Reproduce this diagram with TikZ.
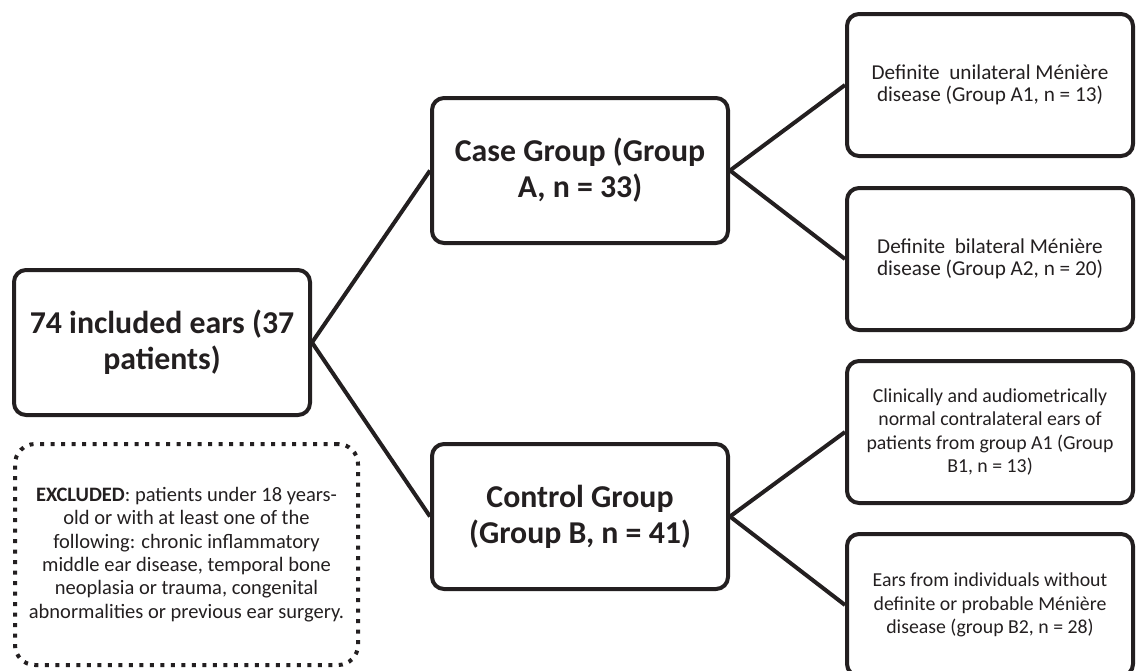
\documentclass[tikz,border=0pt]{standalone}
\usepackage{fontspec}
\setmainfont{Carlito}
\usetikzlibrary{positioning}
\definecolor{ink}{HTML}{231F20}

\begin{document}
\begin{tikzpicture}[x=1pt, y=-1pt, line join=round]
  \tikzset{
    mainbox/.style={rectangle, rounded corners=12pt, draw=ink, text=ink, line width=4pt,
      minimum width=296pt, minimum height=145pt, align=center,
      font=\fontsize{31.8}{36}\selectfont\bfseries},
    subbox/.style={rectangle, rounded corners=12pt, draw=ink, text=ink, line width=4pt,
      minimum width=286pt, minimum height=142pt, align=center,
      font=\fontsize{19.8}{23.3}\selectfont},
    exclbox/.style={rectangle, rounded corners=20pt, draw=ink, text=ink, line width=4pt,
      dash pattern=on 4pt off 6.5pt, minimum width=343pt, minimum height=221pt,
      align=center, font=\fontsize{20.5}{23.3}\selectfont},
    link/.style={draw=ink, line width=4pt}
  }
  \useasboundingbox (0,0) rectangle (1137,670);

  \node[mainbox] (ears) at (162,342.5) {74 included ears (37\\patients)};
  \node[mainbox] (caseA) [above right=23pt and 118pt of ears] {Case Group (Group\\A, n = 33)};
  \node[mainbox] (controlB) [below right=25pt and 118pt of ears] {Control Group\\(Group B, n = 41)};

  \node[subbox, font=\fontsize{21.2}{22.5}\selectfont] (a1) at (990,85) {Definite\ \ unilateral Ménière\\disease (Group A1, n = 13)};
  \node[subbox, font=\fontsize{21.2}{22.5}\selectfont] (a2) [below=28pt of a1] {Definite\ \ bilateral Ménière\\disease (Group A2, n = 20)};
  \node[subbox] (b1) [below=27pt of a2] {Clinically and audiometrically\\normal contralateral ears of\\patients from group A1 (Group\\B1, n = 13)};
  \node[subbox] (b2) [below=27pt of b1] {Ears from individuals without\\definite or probable Ménière\\disease (group B2, n = 28)};

  \node[exclbox] (excl) at (186.5,554.5) {\textbf{EXCLUDED}: patients under 18 years-\\old or with at least one of the\\following: chronic inflammatory\\middle ear disease, temporal bone\\neoplasia or trauma, congenital\\abnormalities or previous ear surgery.};

  \path[link] (ears.east) edge (caseA.west);
  \path[link] (ears.east) edge (controlB.west);

  \path[link] (caseA.east) edge (a1.west);
  \path[link] (caseA.east) edge (a2.west);
  \path[link] (controlB.east) edge (b1.west);
  \path[link] (controlB.east) edge (b2.west);

\end{tikzpicture}
\end{document}
